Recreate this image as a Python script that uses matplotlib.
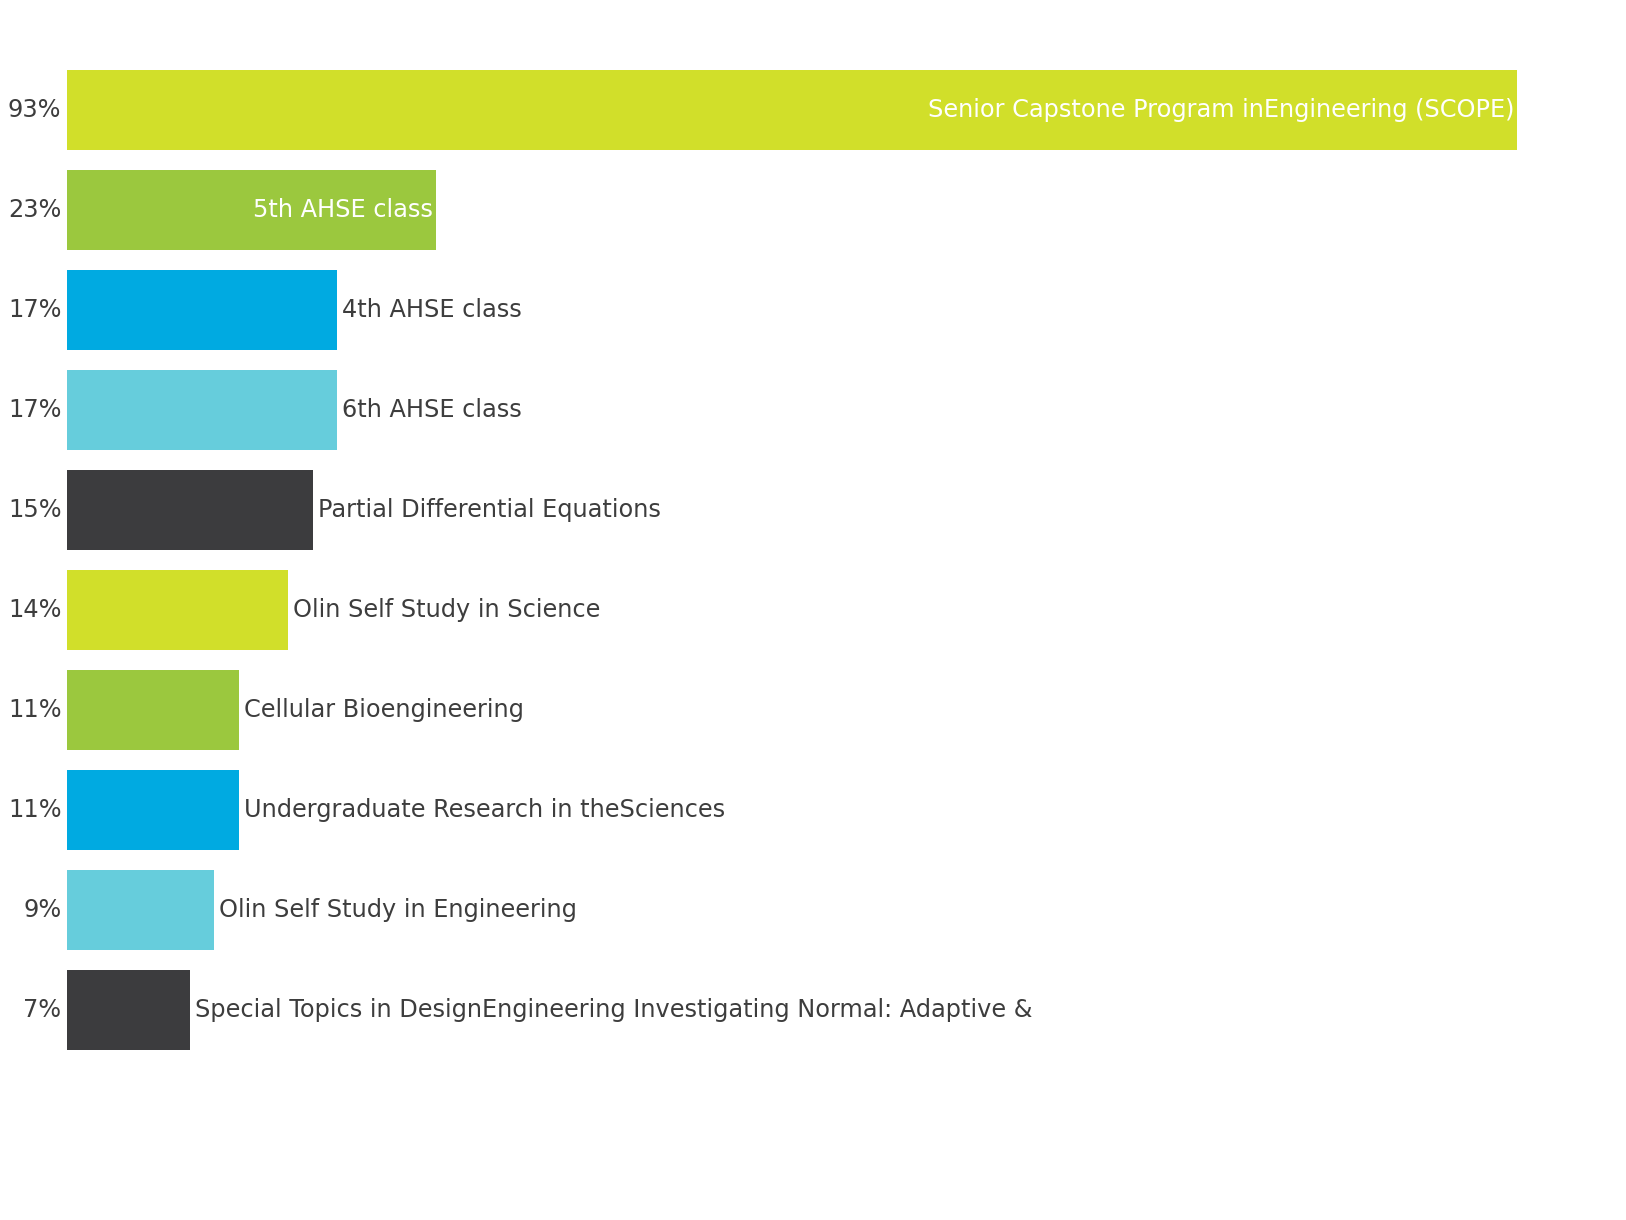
import matplotlib
matplotlib.use('Agg')
import matplotlib.pyplot as plt

COURSES = [
    'Senior Capstone Program inEngineering (SCOPE)',
    '5th AHSE class',
    '4th AHSE class',
    '6th AHSE class',
    'Partial Differential Equations',
    'Olin Self Study in Science',
    'Cellular Bioengineering',
    'Undergraduate Research in theSciences',
    'Olin Self Study in Engineering',
    'Special Topics in DesignEngineering Investigating Normal: Adaptive &',
]
COUNTS = [59, 15, 11, 11, 10, 9, 7, 7, 6, 5]
PCT_LABELS = ['93%', '23%', '17%', '17%', '15%', '14%', '11%', '11%', '9%', '7%']
COLORS = ['#d1df2a', '#9bc83e', '#00aae1', '#66cddc', '#3c3c3e']
INSIDE = [True, True, False, False, False, False, False, False, False, False]

TEXT = '#3d3d3d'
W, H = 1626, 1220
FS = 17.3

fig = plt.figure(figsize=(W / 100, H / 100), dpi=100)
left_px, right_px = 67, 1600
top_px, bot_px = 60.5, 1060
ax = fig.add_axes([left_px / W, 1 - bot_px / H, (right_px - left_px) / W, (bot_px - top_px) / H])

y = list(range(len(COUNTS)))
bar_colors = [COLORS[i % len(COLORS)] for i in y]
ax.barh(y, COUNTS, height=0.8, color=bar_colors)

# scale so the biggest bar ends at ~1517 px
xmax = max(COUNTS) * (right_px - left_px) / (1517 - left_px)
ax.set_xlim(0, xmax)
ax.set_ylim(len(COUNTS) - 0.5, -0.5)

ax.set_yticks(y)
ax.set_yticklabels(PCT_LABELS, fontsize=FS, color=TEXT)
for lbl in ax.get_yticklabels():
    lbl.set_va('center')
ax.tick_params(axis='y', length=0, pad=4)
ax.set_xticks([])
for s in ax.spines.values():
    s.set_visible(False)

for i, (name, c) in enumerate(zip(COURSES, COUNTS)):
    if INSIDE[i]:
        ax.annotate(name, (c, i), xytext=(-3, 0), textcoords='offset pixels',
                    ha='right', va='center', fontsize=FS, color='white')
    else:
        ax.annotate(name, (c, i), xytext=(5, 0), textcoords='offset pixels',
                    ha='left', va='center', fontsize=FS, color=TEXT)

fig.savefig('out.png', dpi=100)
